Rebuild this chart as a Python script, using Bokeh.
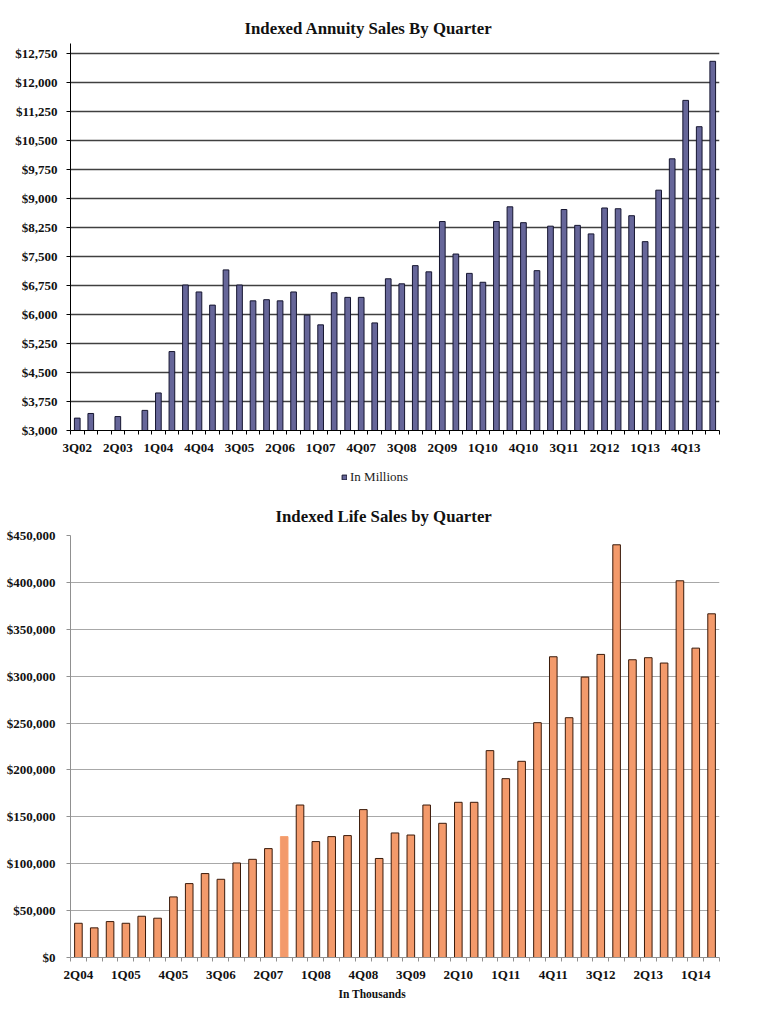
from bokeh.plotting import figure
from bokeh.models import (ColumnDataSource, FixedTicker, NumeralTickFormatter, Title,
                          Legend, LegendItem, Range1d)
from bokeh.layouts import column
from bokeh.embed import file_html
from bokeh.resources import INLINE

# ---------------- data ----------------
annuity_quarters = ["3Q02", "4Q02", "1Q03", "2Q03", "3Q03", "4Q03", "1Q04", "2Q04",
                    "3Q04", "4Q04", "1Q05", "2Q05", "3Q05", "4Q05", "1Q06", "2Q06",
                    "3Q06", "4Q06", "1Q07", "2Q07", "3Q07", "4Q07", "1Q08", "2Q08",
                    "3Q08", "4Q08", "1Q09", "2Q09", "3Q09", "4Q09", "1Q10", "2Q10",
                    "3Q10", "4Q10", "1Q11", "2Q11", "3Q11", "4Q11", "1Q12", "2Q12",
                    "3Q12", "4Q12", "1Q13", "2Q13", "3Q13", "4Q13", "1Q14", "2Q14"]
annuity_sales = [3320, 3440, 3000, 3360, 3000, 3520, 3970, 5040,
                 6760, 6580, 6240, 7150, 6760, 6350, 6380, 6350,
                 6580, 5980, 5730, 6560, 6440, 6440, 5780, 6920,
                 6790, 7260, 7100, 8400, 7560, 7060, 6830, 8400,
                 8780, 8370, 7130, 8280, 8710, 8300, 8080, 8750,
                 8730, 8550, 7880, 9210, 10020, 11530, 10850, 12540]
annuity_yticks = [3000, 3750, 4500, 5250, 6000, 6750, 7500, 8250, 9000,
                  9750, 10500, 11250, 12000, 12750]

life_quarters = ["2Q04", "3Q04", "4Q04", "1Q05", "2Q05", "3Q05", "4Q05", "1Q06",
                 "2Q06", "3Q06", "4Q06", "1Q07", "2Q07", "3Q07", "4Q07", "1Q08",
                 "2Q08", "3Q08", "4Q08", "1Q09", "2Q09", "3Q09", "4Q09", "1Q10",
                 "2Q10", "3Q10", "4Q10", "1Q11", "2Q11", "3Q11", "4Q11", "1Q12",
                 "2Q12", "3Q12", "4Q12", "1Q13", "2Q13", "3Q13", "4Q13", "1Q14", "2Q14"]
life_sales = [36500, 31600, 38300, 36500, 44000, 41900, 64600, 78800,
              89500, 83400, 100800, 104700, 116100, 128900, 162600, 123600,
              128900, 130000, 157700, 105600, 132800, 130600, 162600, 143100,
              165500, 165500, 220600, 190700, 209200, 250400, 320700, 255700,
              299000, 323200, 440100, 317500, 319700, 314000, 401700, 329900, 366500]
life_yticks = [0, 50000, 100000, 150000, 200000, 250000, 300000, 350000, 400000, 450000]

SERIF = "Liberation Serif"
ANNUITY_FILL, ANNUITY_LINE = "#666699", "#151530"


def style_x_axis(p, labels, color, standoff):
    n = len(labels)
    majors = list(range(0, n, 3))
    minors = [i - 0.5 for i in range(n + 1)]
    ax = p.xaxis[0]
    ax.ticker = FixedTicker(ticks=majors, minor_ticks=minors)
    ax.major_label_overrides = {i: labels[i] for i in majors}
    ax.major_tick_out = 0
    ax.major_tick_in = 0
    ax.minor_tick_out = 4
    ax.minor_tick_in = 0
    ax.minor_tick_line_color = color
    ax.axis_line_color = color
    ax.major_label_text_font = SERIF
    ax.major_label_text_font_size = "13px"
    ax.major_label_text_font_style = "bold"
    ax.major_label_text_color = "#111111"
    ax.major_label_standoff = standoff


def style_y_axis(p, ticks, color, standoff):
    ax = p.yaxis[0]
    ax.ticker = FixedTicker(ticks=ticks, minor_ticks=[])
    ax.formatter = NumeralTickFormatter(format="$0,0")
    ax.major_tick_out = 4
    ax.major_tick_in = 0
    ax.major_tick_line_color = color
    ax.axis_line_color = color
    ax.major_label_text_font = SERIF
    ax.major_label_text_font_size = "13px"
    ax.major_label_text_font_style = "bold"
    ax.major_label_text_color = "#111111"
    ax.major_label_standoff = standoff


# ---------------- top chart ----------------
p1 = figure(width=765, height=460, x_range=Range1d(-0.5, len(annuity_sales) - 0.5),
            y_range=Range1d(3000, 13000), output_backend="svg", toolbar_location=None,
            min_border_left=70, min_border_right=34, min_border_top=43, min_border_bottom=30)
p1.title = Title(text="Indexed Annuity Sales By Quarter", align="left", offset=174,
                 text_font=SERIF, text_font_size="16.8px", text_font_style="bold",
                 text_color="#111111", standoff=12)
src1 = ColumnDataSource(dict(x=list(range(len(annuity_sales))), top=annuity_sales,
                             q=annuity_quarters))
p1.vbar(x="x", top="top", bottom=3000, width=0.42, fill_color=ANNUITY_FILL,
        line_color=ANNUITY_LINE, line_width=1, source=src1)
style_x_axis(p1, annuity_quarters, "#000000", 5)
style_y_axis(p1, annuity_yticks, "#000000", 9)
p1.xgrid.visible = False
p1.ygrid.ticker = FixedTicker(ticks=annuity_yticks)
p1.ygrid.grid_line_color = "#404040"
p1.ygrid.grid_line_width = 1.3
p1.outline_line_color = None

# ---------------- legend strip for top chart ----------------
pl = figure(width=765, height=34, x_range=Range1d(0, 765), y_range=Range1d(0, 34),
            output_backend="svg", toolbar_location=None, min_border=0)
pl.axis.visible = False
pl.grid.visible = False
pl.outline_line_color = None
key = pl.vbar(x=[-100000], top=[-100000], bottom=-100001, width=1, fill_color=ANNUITY_FILL,
              line_color=ANNUITY_LINE, line_width=1)
legend = Legend(items=[LegendItem(label="In Millions", renderers=[key])],
                location=(271, 9), orientation="horizontal",
                border_line_color=None, background_fill_alpha=0,
                label_text_font=SERIF, label_text_font_size="13px",
                label_text_color="#222222", glyph_width=6, glyph_height=6,
                padding=0, margin=0, label_standoff=3)
pl.add_layout(legend, "center")

# ---------------- bottom chart ----------------
p2 = figure(width=765, height=529, x_range=Range1d(-0.5, len(life_sales) - 0.5),
            y_range=Range1d(0, 450000), output_backend="svg", toolbar_location=None,
            min_border_left=70, min_border_right=46, min_border_top=41, min_border_bottom=66)
p2.title = Title(text="Indexed Life Sales by Quarter", align="left", offset=205,
                 text_font=SERIF, text_font_size="16.8px", text_font_style="bold",
                 text_color="#111111", standoff=20)
life_line = ["#3a1a0a"] * len(life_sales)
life_line[life_quarters.index("3Q07")] = "#F5A070"
src2 = ColumnDataSource(dict(x=list(range(len(life_sales))), top=life_sales,
                             q=life_quarters, lc=life_line))
p2.vbar(x="x", top="top", bottom=0, width=0.48, fill_color="#F39A6B",
        line_color="lc", line_width=1, source=src2)
style_x_axis(p2, life_quarters, "#909090", 5)
style_y_axis(p2, life_yticks, "#909090", 11)
p2.xgrid.visible = False
p2.ygrid.ticker = FixedTicker(ticks=life_yticks)
p2.ygrid.grid_line_color = "#a8a8a8"
p2.ygrid.grid_line_width = 1
p2.outline_line_color = None
p2.add_layout(Title(text="In Thousands", align="left", offset=268, text_font=SERIF,
                    text_font_size="11.5px", text_font_style="bold", text_color="#111111",
                    standoff=2), "below")

layout = column(p1, pl, p2, spacing=0)
open("out.html", "w").write(file_html(layout, INLINE))
